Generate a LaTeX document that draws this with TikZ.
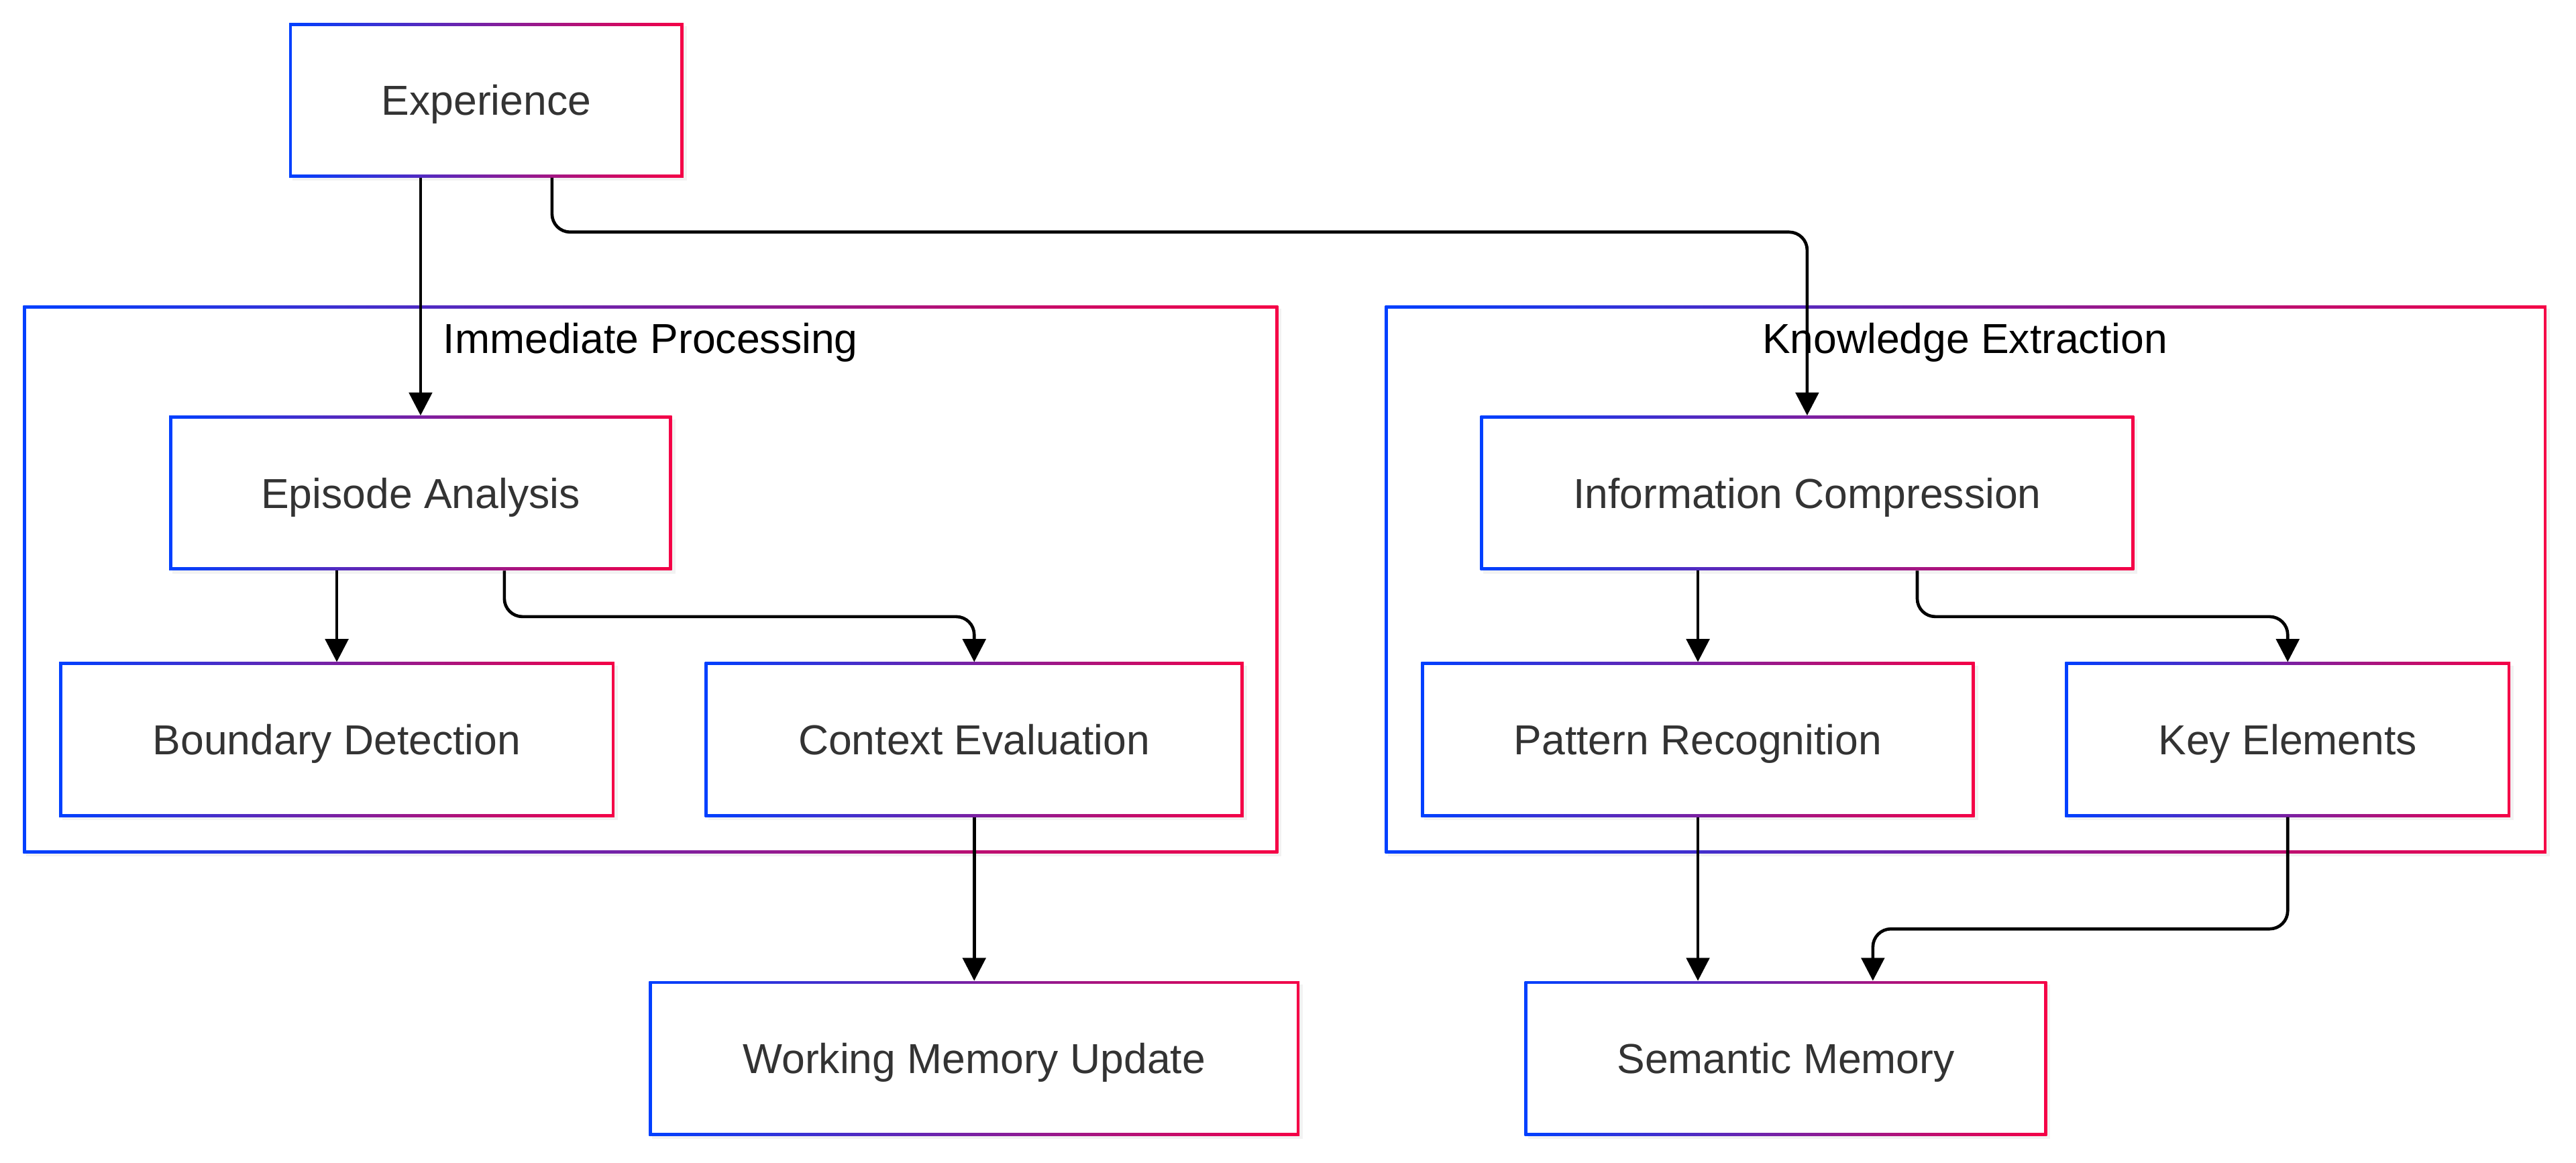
\documentclass[tikz,border=0pt]{standalone}
\usepackage{fontspec}
\setmainfont{Liberation Sans}
\usetikzlibrary{arrows.meta,shadows}
\definecolor{cblue}{RGB}{0,64,255}
\definecolor{cred}{RGB}{245,0,70}
\definecolor{ctext}{RGB}{51,51,51}
\tikzset{
  gframe/.style={rectangle, inner sep=0pt, left color=cblue, right color=cred,
    drop shadow={opacity=0.10, shadow xshift=2pt, shadow yshift=-2pt},
    path picture={\fill[white] ([shift={(1.8pt,-1.8pt)}]path picture bounding box.north west) rectangle ([shift={(-1.8pt,1.8pt)}]path picture bounding box.south east);}},
  gbox/.style={gframe, text=ctext, font=\fontsize{25.5}{30}\selectfont, text height=18.3pt, text depth=0pt, minimum height=94pt},
  cluster/.style={gframe, minimum height=333pt},
  clabel/.style={text=black, font=\fontsize{25.5}{30}\selectfont, text height=18.3pt, text depth=0pt, inner sep=0pt},
  arr/.style={draw=black, line width=1.9pt, rounded corners=11pt, -{Triangle[length=14pt,width=14pt]}},
}
\begin{document}
\begin{tikzpicture}[x=1pt,y=-1pt]
\useasboundingbox (0,0) rectangle (1568,707.6);
% clusters
\node[cluster, minimum width=764pt] (ipc) at (396,352.5) {};
\node[cluster, minimum width=707pt] (kec) at (1196.5,352.5) {};
\node[clabel] (ipl) at (396,206) {Immediate Processing};
\node[clabel] (kel) at (1196,206) {Knowledge Extraction};
% nodes
\node[gbox, minimum width=240pt] (exp) at (296,61) {Experience};
\node[gbox, minimum width=306pt] (epi) at (256,300) {Episode Analysis};
\node[gbox, minimum width=338pt] (bd) at (205,450) {Boundary Detection};
\node[gbox, minimum width=328pt] (ce) at (593,450) {Context Evaluation};
\node[gbox, minimum width=398pt] (ic) at (1100,300) {Information Compression};
\node[gbox, minimum width=337pt] (pr) at (1033.5,450) {Pattern Recognition};
\node[gbox, minimum width=271pt] (ke) at (1392.5,450) {Key Elements};
\node[gbox, minimum width=396pt] (wmu) at (593,644) {Working Memory Update};
\node[gbox, minimum width=318pt] (sm) at (1087,644) {Semantic Memory};
% edges
\draw[arr] (exp.south -| epi.north) -- (epi.north);
\draw[arr] ([xshift=40pt]exp.south) -- ++(0,33) -| (ic.north);
\draw[arr] (epi.south -| bd.north) -- (bd.north);
\draw[arr] ([xshift=51pt]epi.south) -- ++(0,28) -| (ce.north);
\draw[arr] (ic.south -| pr.north) -- (pr.north);
\draw[arr] ([xshift=67pt]ic.south) -- ++(0,28) -| (ke.north);
\draw[arr] (ce.south) -- (wmu.north);
\draw[arr] (pr.south) -- (sm.north -| pr.south);
\draw[arr] (ke.south) -- ++(0,68) -| ([xshift=53pt]sm.north);
\end{tikzpicture}
\end{document}
